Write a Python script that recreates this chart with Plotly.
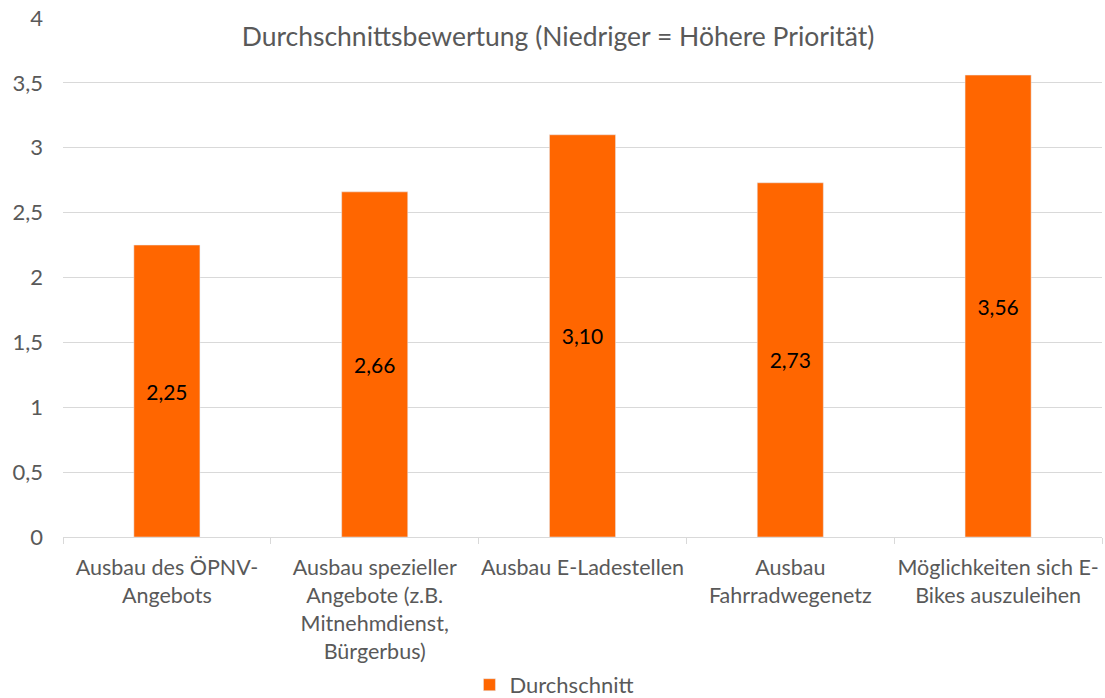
import plotly.graph_objects as go

categories = [
    "Ausbau des ÖPNV-<br>Angebots",
    "Ausbau spezieller<br>Angebote (z.B.<br>Mitnehmdienst,<br>Bürgerbus)",
    "Ausbau E-Ladestellen",
    "Ausbau<br>Fahrradwegenetz",
    "Möglichkeiten sich E-<br>Bikes auszuleihen",
]
values = [2.25, 2.66, 3.10, 2.73, 3.56]
series_name = "Durchschnitt"
title_text = "Durchschnittsbewertung (Niedriger = Höhere Priorität)"
y_ticks = [0, 0.5, 1, 1.5, 2, 2.5, 3, 3.5, 4]

FONT = "Lato, 'Open Sans', sans-serif"
GREY = "#595959"

fig = go.Figure()
fig.add_trace(go.Bar(
    x=categories, y=values, name=series_name,
    marker=dict(color="#FF6600"),
    texttemplate="%{y:.2f}", textposition="inside", insidetextanchor="middle",
    textfont=dict(color="#000000", size=21, family=FONT),
    showlegend=True,
))

fig.update_layout(
    width=1105, height=698,
    paper_bgcolor="white", plot_bgcolor="white",
    separators=",.",
    margin=dict(l=63, r=3, t=18, b=161, autoexpand=False),
    bargap=0.682,
    font=dict(family=FONT, color=GREY, size=21),
    title=dict(text=title_text, x=0.505, xanchor="center", xref="container",
               y=1 - 37 / 698, yanchor="middle", yref="container",
               font=dict(size=26.5, color=GREY, family=FONT)),
    legend=dict(orientation="h", x=0.473, xanchor="center", y=-0.285, yanchor="middle",
                font=dict(size=22, color=GREY, family=FONT)),
    xaxis=dict(showgrid=False, showline=True, linecolor="#D9D9D9", linewidth=1,
               ticks="outside", tickson="boundaries", tickcolor="#D9D9D9", ticklen=6,
               automargin=False, ticklabelstandoff=11, tickangle=0,
               tickfont=dict(size=21.5, color=GREY, family=FONT)),
    yaxis=dict(range=[0, 4], tickvals=y_ticks, showgrid=True,
               gridcolor="#D9D9D9", gridwidth=1, zeroline=False,
               ticks="", ticklabelstandoff=19, automargin=False,
               tickfont=dict(size=22, color=GREY, family=FONT)),
)

fig.write_html("out.html", config={"displayModeBar": False},
               post_script="document.body.style.margin='0px';document.body.style.overflow='hidden';")
